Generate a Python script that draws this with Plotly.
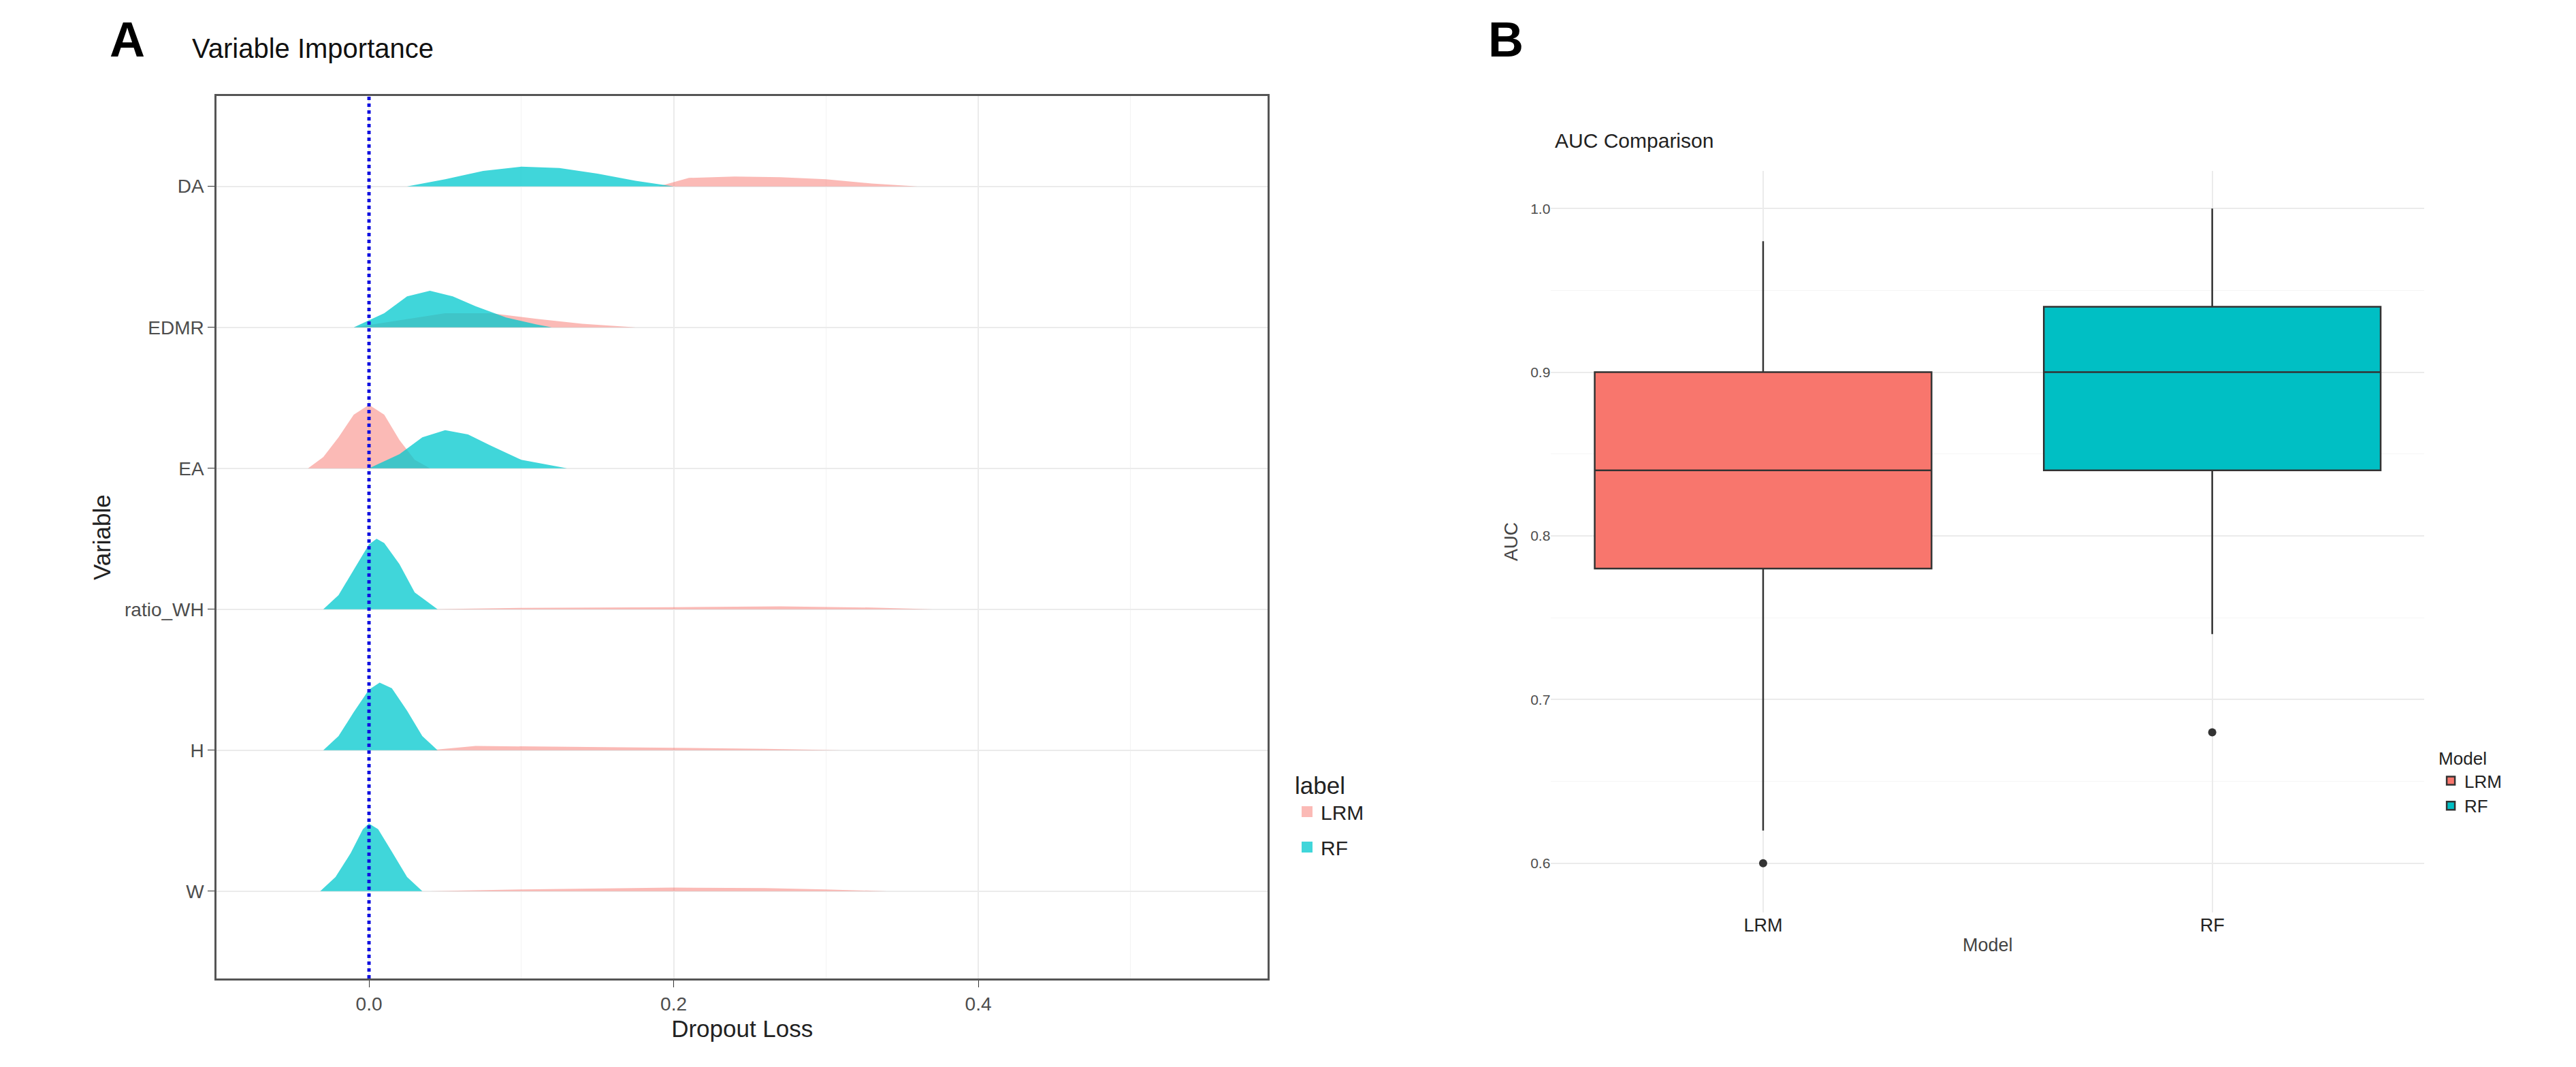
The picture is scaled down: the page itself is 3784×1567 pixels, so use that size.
import plotly.graph_objects as go

variables = ["W", "H", "ratio_WH", "EA", "EDMR", "DA"]

# density profiles: x positions and heights (in row units)
lrm_x = {
    "DA": [0.19, 0.21, 0.24, 0.27, 0.30, 0.33, 0.36],
    "EDMR": [-0.01, 0.02, 0.05, 0.08, 0.11, 0.14, 0.175],
    "EA": [-0.04, -0.03, -0.02, -0.01, 0.0, 0.01, 0.02, 0.03, 0.04],
    "ratio_WH": [0.04, 0.1, 0.2, 0.27, 0.33, 0.37],
    "H": [0.04, 0.07, 0.12, 0.2, 0.26, 0.31],
    "W": [0.04, 0.1, 0.2, 0.26, 0.3, 0.34],
}
lrm_h = {
    "DA": [0, 0.06, 0.07, 0.065, 0.05, 0.02, 0],
    "EDMR": [0, 0.05, 0.1, 0.1, 0.06, 0.025, 0],
    "EA": [0, 0.08, 0.22, 0.38, 0.45, 0.38, 0.2, 0.06, 0],
    "ratio_WH": [0, 0.01, 0.015, 0.02, 0.012, 0],
    "H": [0, 0.03, 0.025, 0.015, 0.01, 0],
    "W": [0, 0.012, 0.025, 0.022, 0.012, 0],
}
rf_x = {
    "DA": [0.025, 0.05, 0.075, 0.1, 0.125, 0.15, 0.175, 0.2],
    "EDMR": [-0.01, 0.01, 0.025, 0.04, 0.055, 0.07, 0.09, 0.11, 0.12],
    "EA": [0.0, 0.02, 0.035, 0.05, 0.065, 0.08, 0.1, 0.13],
    "ratio_WH": [-0.03, -0.02, -0.01, 0.0, 0.005, 0.01, 0.02, 0.03, 0.045],
    "H": [-0.03, -0.02, -0.01, 0.0, 0.007, 0.015, 0.025, 0.035, 0.045],
    "W": [-0.032, -0.022, -0.012, -0.004, 0.0, 0.006, 0.015, 0.025, 0.035],
}
rf_h = {
    "DA": [0, 0.05, 0.11, 0.14, 0.13, 0.09, 0.04, 0],
    "EDMR": [0, 0.1, 0.22, 0.26, 0.22, 0.15, 0.07, 0.02, 0],
    "EA": [0, 0.1, 0.22, 0.27, 0.24, 0.16, 0.06, 0],
    "ratio_WH": [0, 0.1, 0.28, 0.46, 0.5, 0.47, 0.32, 0.12, 0],
    "H": [0, 0.1, 0.27, 0.43, 0.48, 0.44, 0.28, 0.1, 0],
    "W": [0, 0.1, 0.27, 0.44, 0.48, 0.44, 0.28, 0.1, 0],
}

models = ["LRM", "RF"]
auc_q1 = [0.78, 0.84]
auc_median = [0.84, 0.90]
auc_q3 = [0.90, 0.94]
auc_low = [0.62, 0.74]
auc_high = [0.98, 1.00]
auc_outliers = [[0.60], [0.68]]

LRM_FILL = "rgba(248,118,109,0.5)"
RF_FILL = "rgba(0,200,205,0.75)"

fig = go.Figure()

for name, xs, hs, col in [("LRM", lrm_x, lrm_h, LRM_FILL), ("RF", rf_x, rf_h, RF_FILL)]:
    for i, v in enumerate(variables):
        fig.add_trace(go.Scatter(
            x=xs[v] + xs[v][::-1], y=[i + h for h in hs[v]] + [i] * len(hs[v]),
            fill="toself", fillcolor=col, mode="lines", line=dict(width=0),
            name=name, showlegend=False, legendgroup=name,
            xaxis="x", yaxis="y"))
    # legend key (filled square)
    fig.add_trace(go.Scatter(x=[None], y=[None], mode="markers", name=name,
                             marker=dict(symbol="square", size=44, color=col),
                             legend="legend", legendgroup=name, xaxis="x", yaxis="y"))

fig.add_trace(go.Scatter(x=[0, 0], y=[-0.62, 5.64], mode="lines",
                         line=dict(color="#1010e0", width=5, dash="dot"),
                         showlegend=False, xaxis="x", yaxis="y"))

box_cols = ["#F8766D", "#00BFC4"]
for i, m in enumerate(models):
    fig.add_trace(go.Box(
        x=[m], q1=[auc_q1[i]], median=[auc_median[i]], q3=[auc_q3[i]],
        lowerfence=[auc_low[i]], upperfence=[auc_high[i]],
        fillcolor=box_cols[i], line=dict(color="#333333", width=2.5),
        whiskerwidth=0, name=m, legend="legend2", width=0.75, boxpoints=False,
        xaxis="x2", yaxis="y2"))
    fig.add_trace(go.Scatter(x=[m] * len(auc_outliers[i]), y=auc_outliers[i], mode="markers",
                             marker=dict(color="#333333", size=12), showlegend=False,
                             xaxis="x2", yaxis="y2"))

tickfont = dict(family="Liberation Sans, Arial", size=28, color="#4d4d4d")
titlefont = dict(family="Liberation Sans, Arial", size=35, color="#222")

fig.update_layout(
    width=3784, height=1567, margin=dict(l=0, r=0, t=0, b=0),
    paper_bgcolor="white", plot_bgcolor="white",
    font=dict(family="Liberation Sans, Arial"),
    xaxis=dict(domain=[0.082, 0.49], range=[-0.1, 0.59], tickvals=[0, 0.2, 0.4],
               ticktext=["0.0", "0.2", "0.4"], tickfont=tickfont, ticks="outside",
               ticklen=10, tickcolor="#333", showgrid=True, gridcolor="#ebebeb", gridwidth=2,
               minor=dict(dtick=0.1, tick0=-0.1, showgrid=True, gridcolor="#f3f3f3", gridwidth=1),
               zeroline=False, showline=True, linecolor="#555", linewidth=3, mirror=True,
               title=dict(text="Dropout Loss", font=titlefont, standoff=10)),
    yaxis=dict(domain=[0.088, 0.915], range=[-0.62, 5.64], tickvals=list(range(6)),
               ticktext=variables, tickfont=tickfont, ticks="outside", ticklen=10, tickcolor="#333",
               showgrid=True, gridcolor="#ebebeb", gridwidth=2, zeroline=False,
               showline=True, linecolor="#555", linewidth=3, mirror=True,
               title=dict(text="Variable", font=titlefont, standoff=10)),
    xaxis2=dict(domain=[0.6, 0.939], anchor="y2", tickfont=dict(family="Liberation Sans, Arial", size=27, color="#222"),
                showgrid=True, gridcolor="#ebebeb", gridwidth=2, zeroline=False,
                title=dict(text="Model", font=dict(family="Liberation Sans, Arial", size=27, color="#444"), standoff=5)),
    yaxis2=dict(domain=[0.15, 0.845], anchor="x2", range=[0.57, 1.023], tickvals=[0.6, 0.7, 0.8, 0.9, 1.0],
                ticktext=["0.6", "0.7", "0.8", "0.9", "1.0"], tickfont=dict(family="Liberation Sans, Arial", size=21, color="#4d4d4d"),
                showgrid=True, gridcolor="#ebebeb", gridwidth=2, zeroline=False,
                minor=dict(dtick=0.05, tick0=0.55, showgrid=True, gridcolor="#f5f5f5", gridwidth=1),
                title=dict(text="AUC", font=dict(family="Liberation Sans, Arial", size=27, color="#444"), standoff=10)),
    legend=dict(x=0.5, y=0.29, xanchor="left", yanchor="top", bgcolor="rgba(0,0,0,0)",
                title=dict(text="label", font=dict(size=35, color="#222")),
                font=dict(size=30, color="#222"), itemsizing="trace"),
    legend2=dict(x=0.944, y=0.31, xanchor="left", yanchor="top", bgcolor="rgba(0,0,0,0)",
                 title=dict(text="Model", font=dict(size=26, color="#222")),
                 font=dict(size=26, color="#222")),
    annotations=[
        dict(text="<b>A</b>", x=0.04, y=0.995, xref="paper", yref="paper", xanchor="left", yanchor="top",
             showarrow=False, font=dict(size=72, color="black")),
        dict(text="Variable Importance", x=0.072, y=0.975, xref="paper", yref="paper", xanchor="left", yanchor="top",
             showarrow=False, font=dict(size=40, color="#111")),
        dict(text="<b>B</b>", x=0.575, y=0.995, xref="paper", yref="paper", xanchor="left", yanchor="top",
             showarrow=False, font=dict(size=72, color="black")),
        dict(text="AUC Comparison", x=0.601, y=0.885, xref="paper", yref="paper", xanchor="left", yanchor="top",
             showarrow=False, font=dict(size=30, color="#222")),
    ],
)

fig.write_html("out.html")
